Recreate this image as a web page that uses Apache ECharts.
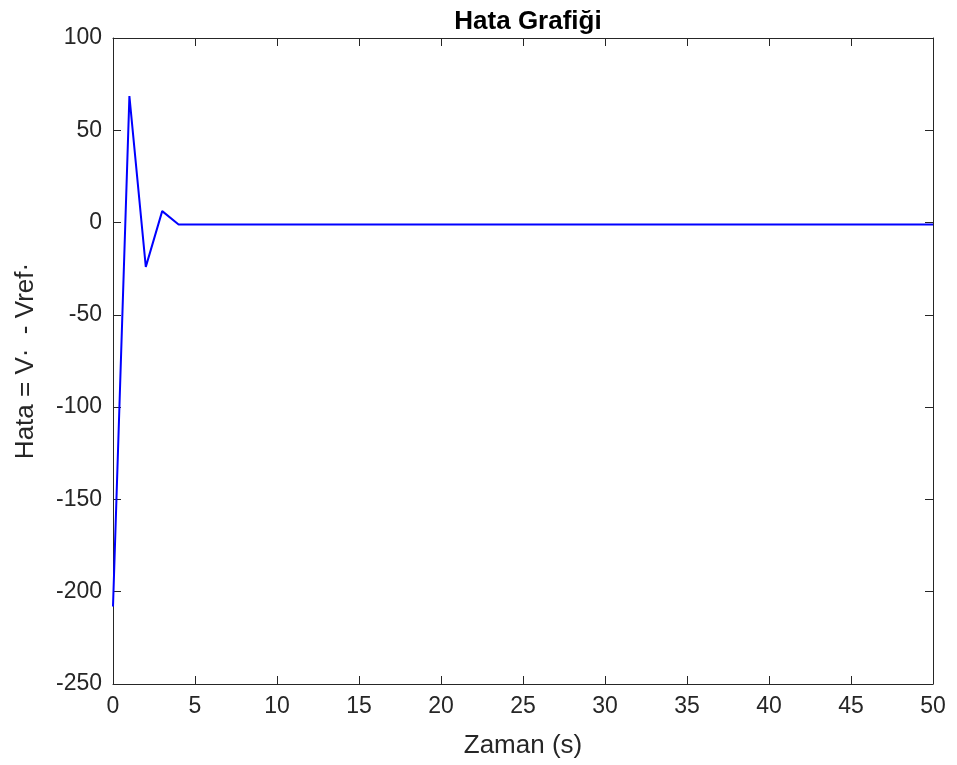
<!DOCTYPE html>
<html>
<head>
<meta charset="utf-8">
<script src="https://cdn.jsdelivr.net/npm/echarts@6/dist/echarts.min.js"></script>
<style>
  html, body { margin: 0; padding: 0; background: #fff; }
  #chart { width: 957px; height: 765px; }
</style>
</head>
<body>
<div id="chart"></div>
<script>
// zaman (s) ve hata degerleri
var zaman = [0, 1, 2, 3, 4, 5, 6, 7, 8, 9, 10, 11, 12, 13, 14, 15, 16, 17, 18, 19, 20,
  21, 22, 23, 24, 25, 26, 27, 28, 29, 30, 31, 32, 33, 34, 35, 36, 37, 38, 39, 40,
  41, 42, 43, 44, 45, 46, 47, 48, 49, 50];
var hata = [-208, 68.5, -24, 6.2, -1, -1, -1, -1, -1, -1, -1, -1, -1, -1, -1, -1, -1, -1, -1, -1, -1,
  -1, -1, -1, -1, -1, -1, -1, -1, -1, -1, -1, -1, -1, -1, -1, -1, -1, -1, -1, -1,
  -1, -1, -1, -1, -1, -1, -1, -1, -1, -1];

var baslik = 'Hata Grafiği';
var xAdi = 'Zaman (s)';
var yAdi = 'Hata = V·  - Vref·';

var font = 'Arial, "Liberation Sans", sans-serif';
var axColor = '#262626';

var points = [];
for (var i = 0; i < zaman.length; i++) points.push([zaman[i], hata[i]]);

var baseX = {
  type: 'value', min: 0, max: 50, interval: 5,
  axisLine: { show: true, onZero: false, lineStyle: { color: axColor, width: 1 } },
  axisTick: { show: true, inside: true, length: 8, lineStyle: { color: axColor } },
  splitLine: { show: false }
};
var baseY = {
  type: 'value', min: -250, max: 100, interval: 50,
  axisLine: { show: true, onZero: false, lineStyle: { color: axColor, width: 1 } },
  axisTick: { show: true, inside: true, length: 8, lineStyle: { color: axColor } },
  splitLine: { show: false }
};

var chart = echarts.init(document.getElementById('chart'));
chart.setOption({
  animation: false,
  backgroundColor: '#fff',
  title: {
    text: baslik, left: 523, top: 4, textAlign: 'center',
    textStyle: { fontFamily: font, fontSize: 26, fontWeight: 'bold', color: '#000' }
  },
  grid: { left: 113, right: 24, top: 38, bottom: 81 },
  xAxis: [
    Object.assign({}, baseX, {
      position: 'bottom',
      name: xAdi, nameLocation: 'middle', nameGap: 49,
      nameTextStyle: { fontFamily: font, fontSize: 26, color: axColor },
      axisLabel: { show: true, margin: 11, fontFamily: font, fontSize: 23, color: axColor }
    }),
    Object.assign({}, baseX, { position: 'top', axisLabel: { show: false } })
  ],
  yAxis: [
    Object.assign({}, baseY, {
      position: 'left',
      name: yAdi, nameLocation: 'middle', nameGap: 74,
      nameTextStyle: { fontFamily: font, fontSize: 26, color: axColor },
      axisLabel: { show: true, margin: 11, fontFamily: font, fontSize: 23, color: axColor }
    }),
    Object.assign({}, baseY, { position: 'right', axisLabel: { show: false } })
  ],
  series: [{
    type: 'line',
    data: points,
    xAxisIndex: 0, yAxisIndex: 0,
    showSymbol: false,
    lineStyle: { color: '#0000ff', width: 2 },
    itemStyle: { color: '#0000ff' }
  }]
});
</script>
</body>
</html>
